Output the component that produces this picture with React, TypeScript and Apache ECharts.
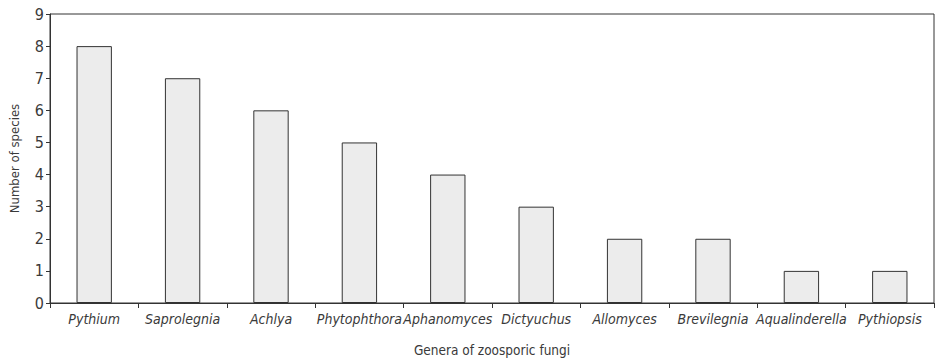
import React, { useEffect, useRef } from "react";
import * as echarts from "echarts";

const categories = [
  "Pythium",
  "Saprolegnia",
  "Achlya",
  "Phytophthora",
  "Aphanomyces",
  "Dictyuchus",
  "Allomyces",
  "Brevilegnia",
  "Aqualinderella",
  "Pythiopsis",
];
const speciesCounts = [8, 7, 6, 5, 4, 3, 2, 2, 1, 1];
const yTicks = [0, 1, 2, 3, 4, 5, 6, 7, 8, 9];

const FONT = "'Liberation Sans Narrow', 'DejaVu Sans Condensed', 'Liberation Sans', sans-serif";

export default function App() {
  const ref = useRef<HTMLDivElement>(null);
  useEffect(() => {
    if (!ref.current) return;
    const chart = echarts.init(ref.current, null, { renderer: "svg" });
    chart.setOption({
      animation: false,
      backgroundColor: "#ffffff",
      grid: {
        left: 45,
        right: 2,
        top: 14,
        bottom: 60,
        show: true,
        borderColor: "#333333",
        borderWidth: 1,
      },
      xAxis: {
        type: "category",
        data: categories,
        name: "Genera of zoosporic fungi",
        nameLocation: "middle",
        nameGap: 40,
        nameTextStyle: { fontFamily: FONT, fontSize: 13.5, color: "#3a3a3a" },
        axisLine: { show: true, lineStyle: { color: "#333", width: 1 } },
        axisTick: { show: true, alignWithLabel: false, length: 5, lineStyle: { color: "#333" } },
        axisLabel: {
          interval: 0,
          fontFamily: FONT,
          fontStyle: "italic",
          fontSize: 14,
          color: "#3a3a3a",
          margin: 9,
        },
      },
      yAxis: {
        type: "value",
        min: 0,
        max: 9,
        interval: 1,
        name: "Number of species",
        nameLocation: "middle",
        nameGap: 29,
        nameTextStyle: { fontFamily: FONT, fontSize: 13, color: "#3a3a3a" },
        axisLine: { show: true, lineStyle: { color: "#333", width: 1 } },
        axisTick: { show: true, length: 4, lineStyle: { color: "#333" } },
        splitLine: { show: false },
        axisLabel: {
          fontFamily: FONT,
          fontSize: 16,
          color: "#3a3a3a",
          margin: 6,
          formatter: (v: number) => (yTicks.includes(v) ? String(v) : ""),
        },
      },
      series: [
        {
          type: "bar",
          data: speciesCounts,
          barWidth: "40%",
          itemStyle: { color: "#ececec", borderColor: "#333333", borderWidth: 1 },
        },
      ],
    });
    return () => chart.dispose();
  }, []);
  return (
    <div
      ref={ref}
      style={{ position: "fixed", left: 0, top: 0, width: 936, height: 363 }}
    />
  );
}
